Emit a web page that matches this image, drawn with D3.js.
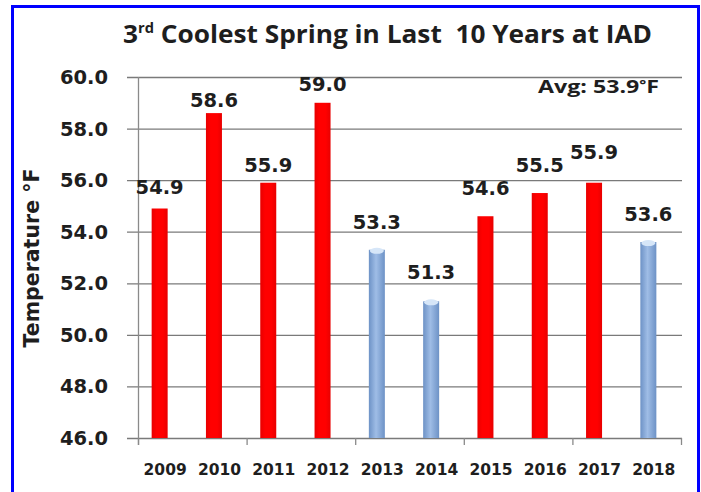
<!DOCTYPE html>
<html lang="en">
<head>
  <meta charset="UTF-8">
  <title>3rd Coolest Spring in Last 10 Years at IAD</title>
  <script src="https://d3js.org/d3.v7.min.js"></script>
  <style>
    * { margin: 0; padding: 0; box-sizing: border-box; }
    body { background: #fff; width: 701px; height: 492px; overflow: hidden; }
    svg { display: block; }
  </style>
</head>
<body>
  <svg id="chart" width="701" height="492"></svg>
  <script>
  // data
  var years = ['2009', '2010', '2011', '2012', '2013', '2014', '2015', '2016', '2017', '2018'];
  var temps = [54.9, 58.6, 55.9, 59.0, 53.3, 51.3, 54.6, 55.5, 55.9, 53.6];
  var yTicks = [46, 48, 50, 52, 54, 56, 58, 60];
  var avgTemp = 53.9;
  // gap (px) between bar top and value label baseline, as placed by hand in the original
  var labelGap = [15, 6, 11, 12, 21, 22, 21, 21, 24, 21];

  var rows = years.map(function(y, i) { return { year: y, temp: temps[i], gap: labelGap[i] }; });

  var W = 701, H = 492;
  var plot = { left: 138, right: 681, top: 77, bottom: 438 };
  var barW = 16, barShift = -5.5;

  var svg = d3.select('#chart');

  // frame
  svg.append('rect').attr('x', 0).attr('y', 0).attr('width', W).attr('height', H).attr('fill', '#fff');
  svg.append('rect')
    .attr('x', 12.5).attr('y', 6.5).attr('width', 686).attr('height', 500)
    .attr('fill', 'none').attr('stroke', '#0000ff').attr('stroke-width', 3);

  var x = d3.scaleBand().domain(years).range([plot.left, plot.right]).padding(0);
  var y = d3.scaleLinear().domain([46, 60]).range([plot.bottom, plot.top]);

  // gradients
  var defs = svg.append('defs');
  var blue = defs.append('linearGradient').attr('id', 'blueBar').attr('x1', 0).attr('x2', 1).attr('y1', 0).attr('y2', 0);
  blue.append('stop').attr('offset', '0%').attr('stop-color', '#6d92c6');
  blue.append('stop').attr('offset', '45%').attr('stop-color', '#9fbde6');
  blue.append('stop').attr('offset', '100%').attr('stop-color', '#6d92c6');
  var red = defs.append('linearGradient').attr('id', 'redBar').attr('x1', 0).attr('x2', 1).attr('y1', 0).attr('y2', 0);
  red.append('stop').attr('offset', '0%').attr('stop-color', '#e80000');
  red.append('stop').attr('offset', '30%').attr('stop-color', '#ff0000');
  red.append('stop').attr('offset', '70%').attr('stop-color', '#ff0000');
  red.append('stop').attr('offset', '100%').attr('stop-color', '#e80000');

  // gridlines
  svg.append('g')
    .selectAll('line')
    .data(yTicks)
    .join('line')
    .attr('x1', plot.left - 11).attr('x2', plot.right + 1)
    .attr('y1', function(d) { return y(d) + 0.5; })
    .attr('y2', function(d) { return y(d) + 0.5; })
    .attr('stroke', '#7a7a7a').attr('stroke-width', 1.3);

  // y axis line
  svg.append('line')
    .attr('x1', plot.left + 0.5).attr('x2', plot.left + 0.5)
    .attr('y1', plot.top).attr('y2', plot.bottom + 7)
    .attr('stroke', '#8a8a8a').attr('stroke-width', 1.3);

  // x axis ticks every two categories
  var xTicks = d3.range(0, years.length + 1, 2);
  svg.append('g')
    .selectAll('line')
    .data(xTicks)
    .join('line')
    .attr('x1', function(i) { return plot.left + i * x.bandwidth() + 0.5; })
    .attr('x2', function(i) { return plot.left + i * x.bandwidth() + 0.5; })
    .attr('y1', plot.bottom).attr('y2', plot.bottom + 7)
    .attr('stroke', '#8a8a8a').attr('stroke-width', 1.3);

  // y tick labels
  svg.append('g')
    .selectAll('text')
    .data(yTicks)
    .join('text')
    .attr('x', 108)
    .attr('y', function(d) { return y(d) + 7; })
    .attr('text-anchor', 'end')
    .attr('font-family', 'DejaVu Sans, Verdana, sans-serif')
    .attr('font-weight', 'bold')
    .attr('font-size', '19.5px')
    .attr('fill', '#1e1e1e')
    .text(function(d) { return d.toFixed(1); });

  // bars
  function barX(d) { return x(d.year) + x.bandwidth() / 2 + barShift; }
  var bars = svg.append('g')
    .selectAll('g')
    .data(rows)
    .join('g');

  bars.append('rect')
    .attr('x', function(d) { return barX(d) - barW / 2; })
    .attr('y', function(d) { return y(d.temp); })
    .attr('width', barW)
    .attr('height', function(d) { return y(46) - y(d.temp); })
    .attr('fill', function(d) { return d.temp < avgTemp ? 'url(#blueBar)' : 'url(#redBar)'; });

  // light top cap on the cool bars
  bars.filter(function(d) { return d.temp < avgTemp; })
    .append('ellipse')
    .attr('cx', function(d) { return barX(d); })
    .attr('cy', function(d) { return y(d.temp) + 1; })
    .attr('rx', barW / 2 - 1).attr('ry', 3)
    .attr('fill', '#d6e6f8');

  // value labels
  svg.append('g')
    .selectAll('text')
    .data(rows)
    .join('text')
    .attr('x', function(d) { return barX(d); })
    .attr('y', function(d) { return y(d.temp) - d.gap; })
    .attr('text-anchor', 'middle')
    .attr('font-family', 'DejaVu Sans, Verdana, sans-serif')
    .attr('font-weight', 'bold')
    .attr('font-size', '19.5px')
    .attr('fill', '#1e1e1e')
    .text(function(d) { return d.temp.toFixed(1); });

  // year labels
  svg.append('g')
    .selectAll('text')
    .data(years)
    .join('text')
    .attr('x', function(d) { return x(d) + x.bandwidth() / 2; })
    .attr('y', 475)
    .attr('text-anchor', 'middle')
    .attr('font-family', 'DejaVu Sans, Verdana, sans-serif')
    .attr('font-weight', 'bold')
    .attr('font-size', '15.5px')
    .attr('fill', '#1e1e1e')
    .text(function(d) { return d; });

  // y axis title
  svg.append('text')
    .attr('transform', 'translate(39,258) rotate(-90)')
    .attr('text-anchor', 'middle')
    .attr('font-family', 'DejaVu Sans, Verdana, sans-serif')
    .attr('font-weight', 'bold')
    .attr('font-size', '20.5px')
    .attr('fill', '#1e1e1e')
    .text('Temperature \u00B0F');

  // avg note
  var avg = svg.append('text')
    .attr('x', 538).attr('y', 93)
    .attr('font-family', 'Open Sans, sans-serif')
    .attr('font-weight', 'bold')
    .attr('font-size', '17px')
    .attr('fill', '#1e1e1e');
  avg.append('tspan').text('Avg: ' + avgTemp.toFixed(1));
  avg.append('tspan').attr('font-size', '12px').attr('dy', -4).text('\u00B0');
  avg.append('tspan').attr('dy', 4).text('F');
  avg.attr('textLength', 121).attr('lengthAdjust', 'spacingAndGlyphs');

  // title
  var title = svg.append('text')
    .attr('x', 123).attr('y', 43)
    .attr('font-family', 'Open Sans, sans-serif')
    .attr('font-weight', 'bold')
    .attr('font-size', '25px')
    .attr('fill', '#1e1e1e');
  title.append('tspan').text('3');
  title.append('tspan').attr('font-size', '14px').attr('dy', -10).text('rd');
  title.append('tspan').attr('dy', 10).text(' Coolest Spring in Last\u00A0\u00A010 Years at IAD');
  title.attr('textLength', 529).attr('lengthAdjust', 'spacingAndGlyphs');
  </script>
</body>
</html>
